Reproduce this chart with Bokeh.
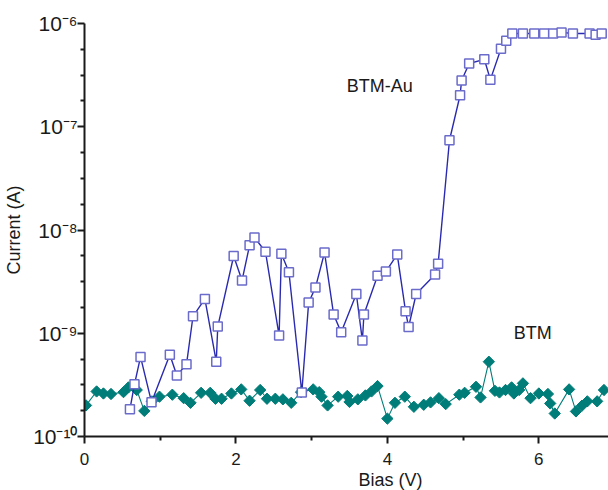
import math
from bokeh.plotting import figure
from bokeh.models import Range1d, FixedTicker, Label, Title, ColumnDataSource
from bokeh.embed import file_html
from bokeh.resources import INLINE

# BTM-Au series (bias in V, current in A)
au_bias = [0.60, 0.66, 0.74, 0.885, 1.127, 1.22, 1.347, 1.433, 1.59, 1.74, 1.76,
           1.97, 2.08, 2.18, 2.245, 2.39, 2.57, 2.60, 2.70, 2.87, 2.96, 3.05,
           3.17, 3.29, 3.39, 3.59, 3.67, 3.69, 3.87, 3.98, 4.13, 4.24, 4.28,
           4.38, 4.63, 4.67, 4.82, 4.96, 4.98, 5.08, 5.28, 5.36, 5.50, 5.57,
           5.65, 5.79, 5.94, 6.07, 6.19, 6.30, 6.45, 6.67, 6.75, 6.83]
au_current = [1.84e-10, 3.2e-10, 5.9e-10, 2.15e-10, 6.2e-10, 3.9e-10, 5.0e-10,
              1.46e-9, 2.15e-9, 5.3e-10, 1.16e-9, 5.6e-9, 3.24e-9, 7.1e-9,
              8.45e-9, 6.15e-9, 9.5e-10, 5.9e-9, 3.9e-9, 2.67e-10, 1.98e-9,
              2.77e-9, 6.05e-9, 1.52e-9, 1.02e-9, 2.4e-9, 8.5e-10, 1.52e-9,
              3.6e-9, 3.96e-9, 5.8e-9, 1.63e-9, 1.15e-9, 2.4e-9, 3.7e-9, 4.7e-9,
              7.4e-8, 2.02e-7, 2.8e-7, 4.1e-7, 4.5e-7, 2.86e-7, 5.7e-7, 6.8e-7,
              8.0e-7, 8.0e-7, 8.0e-7, 8.0e-7, 8.0e-7, 8.2e-7, 8.0e-7, 8.0e-7,
              7.8e-7, 8.0e-7]

# BTM series
btm_bias = [0.02, 0.16, 0.25, 0.35, 0.515, 0.58, 0.69, 0.79, 0.89, 0.99, 1.16,
            1.31, 1.40, 1.54, 1.66, 1.73, 1.81, 1.94, 2.07, 2.18, 2.32, 2.41,
            2.52, 2.62, 2.73, 2.86, 3.02, 3.10, 3.13, 3.21, 3.35, 3.47, 3.50,
            3.61, 3.71, 3.79, 3.87, 4.00, 4.10, 4.23, 4.35, 4.48, 4.57, 4.68,
            4.77, 4.95, 5.02, 5.17, 5.23, 5.34, 5.42, 5.48, 5.56, 5.64, 5.67,
            5.74, 5.79, 5.89, 6.00, 6.12, 6.15, 6.21, 6.40, 6.49, 6.57, 6.64,
            6.77, 6.86]
btm_current = [2.0e-10, 2.73e-10, 2.61e-10, 2.58e-10, 2.69e-10, 2.99e-10,
               2.82e-10, 1.77e-10, 2.19e-10, 2.43e-10, 2.54e-10, 2.35e-10,
               2.12e-10, 2.65e-10, 2.65e-10, 2.32e-10, 2.32e-10, 2.61e-10,
               2.86e-10, 2.22e-10, 2.82e-10, 2.32e-10, 2.32e-10, 2.29e-10,
               2.12e-10, 2.69e-10, 2.86e-10, 2.69e-10, 2.43e-10, 2.0e-10,
               2.43e-10, 2.47e-10, 2.16e-10, 2.29e-10, 2.5e-10, 2.73e-10,
               3.08e-10, 1.49e-10, 2.12e-10, 2.43e-10, 1.94e-10, 2.03e-10,
               2.14e-10, 2.35e-10, 2.06e-10, 2.54e-10, 2.65e-10, 3.03e-10,
               2.39e-10, 5.3e-10, 2.77e-10, 2.67e-10, 2.82e-10, 2.99e-10,
               2.61e-10, 2.82e-10, 3.27e-10, 2.35e-10, 2.61e-10, 2.58e-10,
               2.09e-10, 1.67e-10, 2.86e-10, 1.75e-10, 1.99e-10, 2.19e-10,
               2.19e-10, 2.82e-10]

x_major = [0, 2, 4, 6]
x_minor = [1, 3, 5]
y_exponents = [-10, -9, -8, -7, -6]
y_labels = ["10⁻¹⁰", "10⁻⁹", "10⁻⁸", "10⁻⁷", "10⁻⁶"]

FONT = "Liberation Sans"
AXIS_COLOR = "#1a1a1a"

p = figure(width=608, height=490, x_range=Range1d(0, 6.92),
           y_range=Range1d(1e-10, 1e-6), y_axis_type="log",
           output_backend="svg", toolbar_location=None,
           min_border_left=84, min_border_right=0, min_border_top=23,
           min_border_bottom=54)
p.grid.visible = False
p.outline_line_color = None
p.background_fill_color = "white"
p.border_fill_color = "white"

y_major = [10.0 ** e for e in y_exponents]
y_minor = [10.0 ** (e + k / 4) for e in y_exponents[:-1] for k in range(1, 4)]
p.yaxis.ticker = FixedTicker(ticks=y_major, minor_ticks=y_minor)
p.yaxis.major_label_overrides = {v: lab for v, lab in zip(y_major, y_labels)}
p.xaxis.ticker = FixedTicker(ticks=x_major, minor_ticks=x_minor)

for ax in (p.xaxis, p.yaxis):
    ax.axis_line_width = 2
    ax.axis_line_color = AXIS_COLOR
    ax.major_tick_line_width = 2
    ax.major_tick_line_color = AXIS_COLOR
    ax.minor_tick_line_width = 2
    ax.minor_tick_line_color = AXIS_COLOR
    ax.major_tick_in = 0
    ax.minor_tick_in = 0
    ax.major_tick_out = 7
    ax.minor_tick_out = 4
    ax.major_label_text_font = FONT
    ax.major_label_text_color = "#1a1a1a"
    ax.axis_label_text_font = FONT
    ax.axis_label_text_font_style = "normal"
    ax.axis_label_text_color = "#1a1a1a"

p.xaxis.major_label_text_font_size = "17px"
p.xaxis.major_label_standoff = 9
p.yaxis.major_label_text_font_size = "21px"
p.yaxis.major_label_standoff = 0
p.yaxis.axis_label = "Current (A)"
p.yaxis.axis_label_text_font_size = "18px"
p.yaxis.axis_label_standoff = 6

xt = Title(text="Bias (V)", align="left", offset=274, standoff=0,
           text_font=FONT, text_font_size="18px", text_font_style="normal",
           text_color="#1a1a1a")
p.add_layout(xt, "below")

au_src = ColumnDataSource(dict(x=au_bias, y=au_current))
btm_src = ColumnDataSource(dict(x=btm_bias, y=btm_current))

p.line("x", "y", source=btm_src, line_color="#007d78", line_width=1.1)
p.scatter("x", "y", source=btm_src, marker="square", size=8, angle=math.pi / 4,
          fill_color="#007d78", line_color="#007d78", line_width=1)

p.line("x", "y", source=au_src, line_color="#2a2ab0", line_width=1.4)
p.scatter("x", "y", source=au_src, marker="square", size=9,
          fill_color="white", line_color="#6b6bcc", line_width=1.5)

p.add_layout(Label(x=3.90, y=2.47e-7, text="BTM-Au", text_align="center",
                   text_baseline="middle", text_font=FONT,
                   text_font_size="18px", text_color="#1a1a1a"))
p.add_layout(Label(x=5.92, y=1.01e-9, text="BTM", text_align="center",
                   text_baseline="middle", text_font=FONT,
                   text_font_size="18px", text_color="#1a1a1a"))

open("out.html", "w").write(file_html(p, INLINE))
